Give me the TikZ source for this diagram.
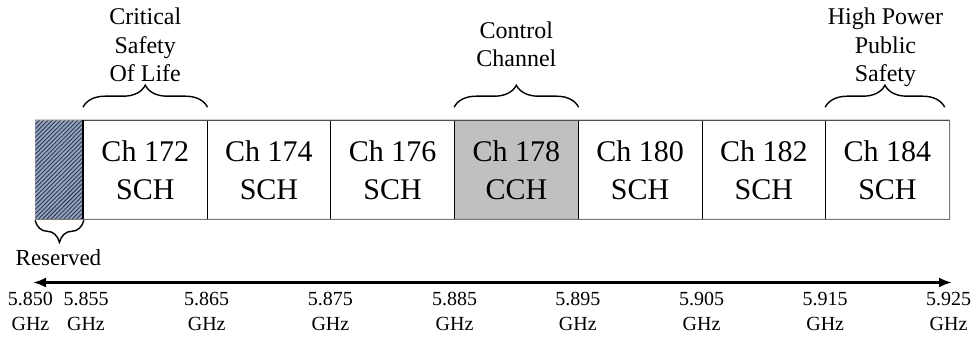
\documentclass[tikz,border=0pt]{standalone}
\usepackage{fontspec}
\setmainfont{Liberation Serif}
\usetikzlibrary{decorations.pathreplacing,patterns.meta,arrows.meta}
\definecolor{hatchbg}{RGB}{150,165,190}
\definecolor{hatchfg}{RGB}{45,55,80}
\definecolor{cchgray}{RGB}{192,192,192}
\definecolor{edgegray}{RGB}{120,120,120}
\begin{document}
\begin{tikzpicture}[x=1pt,y=1pt,
 chbox/.style={draw=black, line width=0.8pt, minimum width=123.7pt, minimum height=98.3pt, inner sep=0pt, align=center, font=\fontsize{30}{38}\selectfont, anchor=south west},
 resbox/.style={draw=none, minimum width=48pt, minimum height=98.3pt, inner sep=0pt, anchor=south west, preaction={fill=hatchbg}, pattern={Lines[angle=45,distance=3pt,line width=0.9pt]}, pattern color=hatchfg},
 toplabel/.style={align=center, font=\fontsize{24}{28.5}\selectfont, inner sep=0pt, anchor=south, text depth=0pt},
 freq/.style={align=center, font=\fontsize{20}{25}\selectfont, inner sep=0pt, anchor=north},
 bracedec/.style={decorate, decoration={brace, amplitude=22pt}, line width=1.4pt},
 axisarrow/.style={{Latex[length=13pt,width=10pt]}-{Latex[length=13pt,width=10pt]}, line width=3pt}
]
\useasboundingbox (0,0) rectangle (978,338);

% reserved box
\node[resbox] (res) at (35,118.7) {};

% channel boxes
\node[chbox] (c172) at (83,118.7) {Ch 172\\SCH};
\node[chbox] (c174) at (206.7,118.7) {Ch 174\\SCH};
\node[chbox] (c176) at (330.4,118.7) {Ch 176\\SCH};
\node[chbox, fill=cchgray] (c178) at (454.1,118.7) {Ch 178\\CCH};
\node[chbox] (c180) at (577.8,118.7) {Ch 180\\SCH};
\node[chbox] (c182) at (701.5,118.7) {Ch 182\\SCH};
\node[chbox] (c184) at (825.2,118.7) {Ch 184\\SCH};

% outer gray edges
\draw[edgegray, line width=1pt] (res.north west) -- (c184.north east) -- (c184.south east) -- (res.south west);
\draw[black, line width=1.6pt] (c172.north west) -- (c172.south west);

% braces above
\draw[bracedec] ([yshift=13pt]c172.north west) -- ([yshift=13pt]c172.north east);
\draw[bracedec] ([yshift=13pt]c178.north west) -- ([yshift=13pt]c178.north east);
\draw[bracedec] ([yshift=13pt]c184.north west) -- ([yshift=13pt,xshift=-5pt]c184.north east);
% brace below reserved
\draw[bracedec] ([yshift=-1pt]res.south east) -- ([yshift=-1pt]res.south west);

% labels above
\node[toplabel] (crit) at ([yshift=38pt]c172.north) {Critical\\Safety\\Of Life};
\node[toplabel] (ctrl) at ([yshift=53pt]c178.north) {Control\\Channel};
\node[toplabel] (hpps) at ([yshift=38pt,xshift=-2pt]c184.north) {High Power\\Public\\Safety};

% reserved label
\node[freq, font=\fontsize{23}{27}\selectfont] (reslbl) at ([yshift=-30pt,xshift=-1pt]res.south) {Reserved};

% frequency axis
\coordinate (aL) at (33,55.5);
\coordinate (aR) at (952,55.5);
\draw[axisarrow] (aL) -- (aR);

% frequency labels
\node[freq] (f850) at (30.5,46) {5.850\\GHz};
\node[freq] (f855) at (86,46) {5.855\\GHz};
\node[freq] (f865) at (206.7,46) {5.865\\GHz};
\node[freq] (f875) at (330.4,46) {5.875\\GHz};
\node[freq] (f885) at (454.6,46) {5.885\\GHz};
\node[freq] (f895) at (577.8,46) {5.895\\GHz};
\node[freq] (f905) at (701.5,46) {5.905\\GHz};
\node[freq] (f915) at (825.2,46) {5.915\\GHz};
\node[freq] (f925) at (948.5,46) {5.925\\GHz};
\end{tikzpicture}
\end{document}
